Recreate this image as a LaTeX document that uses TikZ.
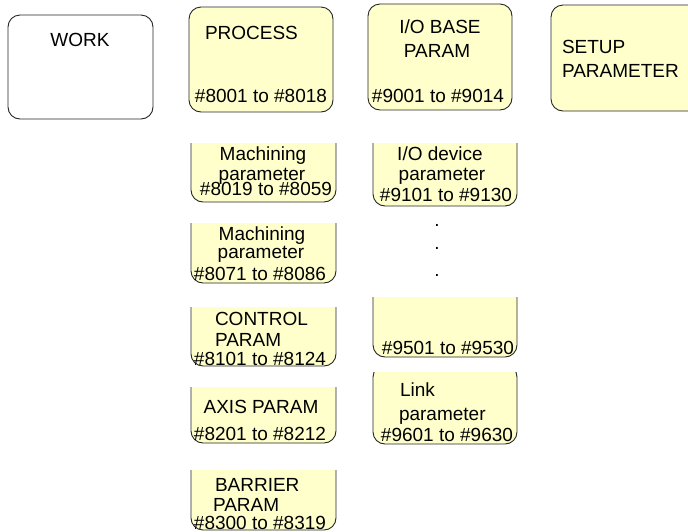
\documentclass[tikz,border=0pt]{standalone}
\usepackage{fontspec}
\setmainfont{Liberation Sans}
\definecolor{boxyellow}{RGB}{255,255,204}
\newcommand\cutbox[4]{\begin{scope}\clip (#1-5,#2) rectangle (#3+5,#4+5); \draw[pbox] (#1,#2-25) rectangle (#3,#4);\end{scope}}
\begin{document}
\begin{tikzpicture}[x=1pt,y=-1pt,
  pbox/.style={draw=black!85,line width=0.9pt,fill=boxyellow,rounded corners=12pt},
  wbox/.style={pbox,fill=white},
  lbl/.style={inner sep=0pt,outer sep=0pt,font=\fontsize{19}{19}\selectfont,anchor=base},
  lbll/.style={lbl,anchor=base west}]
\useasboundingbox (0,0) rectangle (688,531);
\clip (0,0) rectangle (688,531);
% top row boxes
\draw[wbox] (8,15) rectangle (153,119);
\draw[pbox] (189,7) rectangle (333,112);
\draw[pbox] (368,4) rectangle (512,110);
\draw[pbox] (551,5) rectangle (712,111);
% column 2 lower boxes
\cutbox{191}{143}{336}{202}
\cutbox{191}{223}{336}{283}
\cutbox{191}{307}{336}{366}
\cutbox{191}{387}{336}{443}
\cutbox{191}{470}{336}{530}
% column 3 lower boxes
\cutbox{373}{143}{517}{206}
\cutbox{373}{297}{517}{357}
\begin{scope}\clip (368,372) rectangle (522,450); \draw[pbox] (373,365) rectangle (517,444);\end{scope}
% labels
\node[lbl] (work) at (80,46.7) {WORK};
\node[lbll] (proc) at (205,39.3) {PROCESS};
\node[lbl] (procr) at (261,102.7) {\#8001 to \#8018};
\node[lbl] (iob1) at (440,33.3) {I/O BASE};
\node[lbl] (iob2) at (437,57.3) {PARAM};
\node[lbl] (iobr) at (438,102.7) {\#9001 to \#9014};
\node[lbll] (set1) at (562,53.3) {SETUP};
\node[lbll] (set2) at (562,77.3) {PARAMETER};
\node[lbl] (ma1) at (263,160.7) {Machining};
\node[lbl] (ma2) at (262,180) {parameter};
\node[lbl] (mar) at (266,195) {\#8019 to \#8059};
\node[lbl] (mb1) at (262,240) {Machining};
\node[lbl] (mb2) at (261,258.3) {parameter};
\node[lbl] (mbr) at (260,280) {\#8071 to \#8086};
\node[lbll] (ct1) at (215,325) {CONTROL};
\node[lbll] (ct2) at (215,346.7) {PARAM};
\node[lbl] (ctr) at (260,365) {\#8101 to \#8124};
\node[lbl] (ax1) at (261,413.3) {AXIS PARAM};
\node[lbl] (axr) at (260,440) {\#8201 to \#8212};
\node[lbll] (ba1) at (215,491.7) {BARRIER};
\node[lbll] (ba2) at (213,511.7) {PARAM};
\node[lbl] (bar) at (260,529.3) {\#8300 to \#8319};
\node[lbl] (iod1) at (440,160) {I/O device};
\node[lbl] (iod2) at (442,180) {parameter};
\node[lbl] (iodr) at (446,201.7) {\#9101 to \#9130};
\node[lbl] (dot1) at (437,226.5) {.};
\node[lbl] (dot2) at (437,249.5) {.};
\node[lbl] (dot3) at (437,276.5) {.};
\node[lbl] (r95) at (448,354) {\#9501 to \#9530};
\node[lbll] (lk1) at (400,396.5) {Link};
\node[lbll] (lk2) at (399,420) {parameter};
\node[lbl] (lkr) at (447,441) {\#9601 to \#9630};
\end{tikzpicture}
\end{document}
